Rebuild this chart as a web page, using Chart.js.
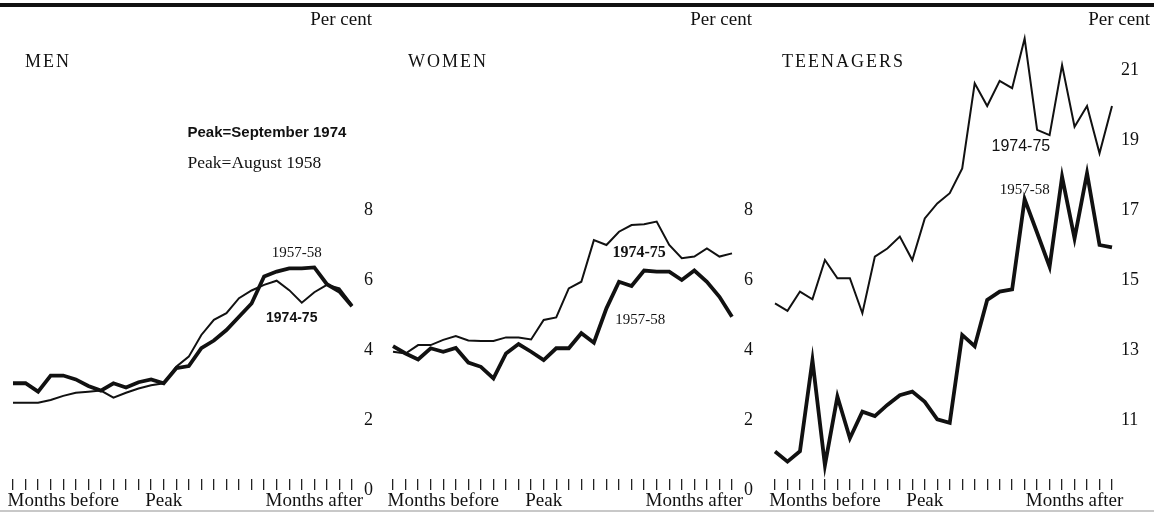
<!DOCTYPE html>
<html>
<head>
<meta charset="utf-8">
<script src="https://cdn.jsdelivr.net/npm/chart.js@4.4.1/dist/chart.umd.min.js"></script>
<style>
  body { margin: 0; background: #fff; width: 1154px; height: 514px; position: relative; overflow: hidden; }
  canvas { position: absolute; top: 0; }
  #rule { position: absolute; left: 0; top: 3px; width: 1154px; height: 4px; background: #111; }
  #foot { position: absolute; left: 0; top: 510px; width: 1154px; height: 2px; background: #c8c8c8; }
</style>
</head>
<body>
<div id="rule"></div>
<canvas id="men" width="385" height="514" style="left:0px"></canvas>
<canvas id="women" width="385" height="514" style="left:380px"></canvas>
<canvas id="teens" width="394" height="514" style="left:760px"></canvas>
<div id="foot"></div>
<script>
// months from peak
const months = [-12,-11,-10,-9,-8,-7,-6,-5,-4,-3,-2,-1,0,1,2,3,4,5,6,7,8,9,10,11,12,13,14,15];
const xTickText = { 4: 'Months before', 12: 'Peak', 24: 'Months after' };

// unemployment rates, per cent
const men1957 = [3.05,3.05,2.81,3.27,3.27,3.16,2.97,2.84,3.05,2.93,3.08,3.16,3.05,3.48,3.54,4.05,4.27,4.57,4.95,5.33,6.10,6.24,6.33,6.33,6.36,5.88,5.67,5.25];
const men1974 = [2.49,2.49,2.49,2.57,2.69,2.78,2.81,2.84,2.64,2.78,2.90,2.99,3.05,3.52,3.81,4.43,4.86,5.05,5.48,5.70,5.86,5.98,5.71,5.35,5.65,5.86,5.76,5.29];
const women1957 = [4.11,3.90,3.73,4.05,3.95,4.06,3.64,3.52,3.19,3.90,4.17,3.95,3.71,4.05,4.05,4.48,4.21,5.19,5.95,5.83,6.27,6.24,6.24,6.00,6.27,5.95,5.52,4.95];
const women1974 = [3.95,3.90,4.14,4.14,4.29,4.40,4.27,4.26,4.26,4.36,4.36,4.30,4.86,4.93,5.76,5.95,7.14,7.00,7.38,7.57,7.59,7.67,7.00,6.62,6.67,6.90,6.67,6.76];
const teen1957 = [10.10,9.81,10.11,12.71,9.71,11.67,10.48,11.24,11.11,11.43,11.71,11.81,11.52,11.02,10.92,13.43,13.11,14.43,14.67,14.73,17.31,16.35,15.38,17.95,16.19,18.05,16.00,15.93];
const teen1974 = [14.33,14.12,14.67,14.45,15.57,15.05,15.05,14.05,15.67,15.90,16.24,15.57,16.76,17.19,17.48,18.19,20.62,19.97,20.69,20.48,21.90,19.29,19.14,21.14,19.38,19.97,18.62,19.97];

const adultTicks = [0, 2, 4, 6, 8];
const teenTicks = [11, 13, 15, 17, 19, 21];

const serif = '"Liberation Serif", "DejaVu Serif", serif';
const narrow = '"Liberation Sans Narrow", "Liberation Sans", sans-serif';

// text drawn on top: panel title, "Per cent", series labels (placed in data units)
function textPlugin(cfg) {
  return {
    id: 'texts',
    afterDraw(chart) {
      const c = chart.ctx, xs = chart.scales.x, ys = chart.scales.y;
      c.save();
      c.fillStyle = '#111';
      c.textBaseline = 'middle';
      c.font = '19px ' + serif;
      c.textAlign = 'right';
      c.fillText('Per cent', chart.chartArea.right + cfg.perCentDx, 20);
      c.textAlign = 'left';
      c.font = '18px ' + serif;
      c.letterSpacing = '2px';
      c.fillText(cfg.title, cfg.titleX, 62);
      c.letterSpacing = '0px';
      cfg.notes.forEach(n => {
        c.font = n.font;
        c.textAlign = n.align || 'center';
        c.fillText(n.t, xs.getPixelForValue(n.x), ys.getPixelForValue(n.y));
      });
      c.restore();
    }
  };
}

function panel(id, cfg) {
  const ctx = document.getElementById(id);
  return new Chart(ctx, {
    type: 'line',
    data: {
      labels: months,
      datasets: [
        { label: '1957-58', data: cfg.thick, borderColor: '#111', borderWidth: 3.8, pointRadius: 0, tension: 0 },
        { label: '1974-75', data: cfg.thin, borderColor: '#111', borderWidth: 2, pointRadius: 0, tension: 0 }
      ]
    },
    options: {
      responsive: false,
      animation: false,
      layout: { padding: { left: cfg.left, top: 30, right: 0, bottom: 0 } },
      plugins: { legend: { display: false }, tooltip: { enabled: false } },
      scales: {
        x: {
          offset: false,
          border: { display: false },
          grid: { display: true, drawOnChartArea: false, drawTicks: true, tickLength: -11, color: '#222', lineWidth: 1.3 },
          ticks: {
            autoSkip: false, maxRotation: 0, minRotation: 0, padding: 11, color: '#111',
            font: { family: serif, size: 19 },
            callback: (v, i) => xTickText[i] || ''
          },
          afterFit: s => { s.height = 24; }
        },
        y: {
          position: 'right',
          min: cfg.min,
          max: cfg.min + 460 / 35,
          border: { display: false },
          grid: { display: false, drawTicks: false },
          afterBuildTicks: s => { s.ticks = cfg.ticks.map(v => ({ value: v })); },
          ticks: { padding: cfg.pad, color: '#111', font: { family: serif, size: 18 } },
          afterFit: s => { s.width = cfg.w - 352; }
        }
      }
    },
    plugins: [textPlugin(cfg)]
  });
}

panel('men', {
  thick: men1957, thin: men1974, min: 0, ticks: adultTicks, left: 13, w: 385, pad: 12,
  perCentDx: 20, title: 'MEN', titleX: 25,
  notes: [
    { t: 'Peak=September 1974', x: 13.9, y: 10.2, font: 'bold 15px ' + narrow, align: 'left' },
    { t: 'Peak=August 1958', x: 13.9, y: 9.34, font: '17.5px ' + serif, align: 'left' },
    { t: '1957-58', x: 22.6, y: 6.77, font: '15px ' + serif },
    { t: '1974-75', x: 22.2, y: 4.91, font: 'bold 14px ' + narrow }
  ]
});

panel('women', {
  thick: women1957, thin: women1974, min: 0, ticks: adultTicks, left: 13, w: 385, pad: 12,
  perCentDx: 20, title: 'WOMEN', titleX: 28,
  notes: [
    { t: '1974-75', x: 19.6, y: 6.77, font: 'bold 16px ' + serif },
    { t: '1957-58', x: 19.7, y: 4.86, font: '15px ' + serif }
  ]
});

panel('teens', {
  thick: teen1957, thin: teen1974, min: 9, ticks: teenTicks, left: 15, w: 394, pad: 9,
  perCentDx: 38, title: 'TEENAGERS', titleX: 22,
  notes: [
    { t: '1974-75', x: 19.7, y: 18.8, font: '16px ' + narrow },
    { t: '1957-58', x: 20.0, y: 17.57, font: '15px ' + serif }
  ]
});
</script>
</body>
</html>
